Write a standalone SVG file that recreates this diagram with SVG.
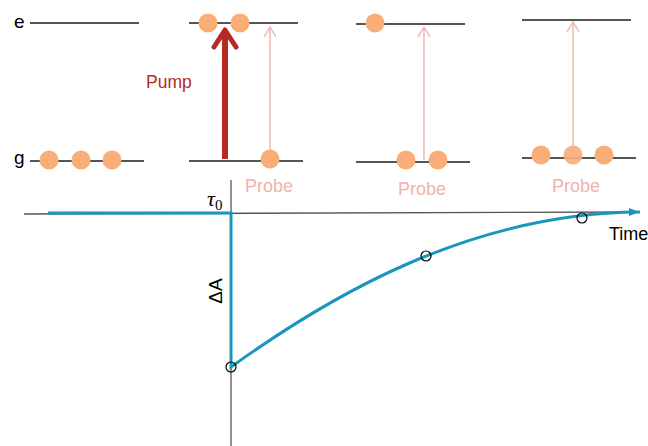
<svg xmlns="http://www.w3.org/2000/svg" width="648" height="446" viewBox="0 0 648 446">
<style>
.lvl{stroke:#555;stroke-width:2;fill:none}
.dot{fill:#f9ae78}
.probe{stroke:#eeb3ac;stroke-width:1.4;fill:none}
.ptxt{font-family:"Liberation Sans",Arial,sans-serif;font-size:18px;fill:#eeb3ac}
.lbl{font-family:"Liberation Sans",Arial,sans-serif;font-size:19px;fill:#000}
.circ{fill:none;stroke:#000;stroke-width:1.2}
</style>
<defs>
<marker id="axhead" markerWidth="10" markerHeight="8" refX="9" refY="4" orient="auto" markerUnits="userSpaceOnUse">
<path d="M0,0 L10,4 L0,8 Z" fill="#1a8fb3"/>
</marker>
</defs>
<rect width="648" height="446" fill="#fff"/>
<g id="panel1">
<text class="lbl" x="14" y="28">e</text>
<text class="lbl" x="14" y="164">g</text>
<line class="lvl" x1="30" y1="23" x2="139" y2="23"/>
<line class="lvl" x1="30" y1="161" x2="144" y2="161"/>
<circle class="dot" cx="49" cy="160" r="9.5"/>
<circle class="dot" cx="81" cy="160" r="9.5"/>
<circle class="dot" cx="112" cy="160" r="9.5"/>
</g>
<g id="panel2">
<line class="lvl" x1="189" y1="23" x2="298" y2="23"/>
<line class="lvl" x1="189" y1="161" x2="303" y2="161"/>
<circle class="dot" cx="208" cy="23" r="9.5"/>
<circle class="dot" cx="240" cy="23" r="9.5"/>
<circle class="dot" cx="270" cy="159" r="9.5"/>
<g id="pump">
<line x1="225" y1="159" x2="225" y2="32" stroke="#b52a22" stroke-width="6"/>
<polyline points="214,47 225,30 236,47" fill="none" stroke="#b52a22" stroke-width="5" stroke-linecap="round" stroke-linejoin="round"/>
<text x="146" y="88" font-family="'Liberation Sans',Arial,sans-serif" font-size="17.5" fill="#b52a22">Pump</text>
</g>
<line class="probe" x1="270" y1="150" x2="270" y2="27"/>
<polyline class="probe" points="264,37 270,27 276,37"/>
<text class="ptxt" x="245" y="192">Probe</text>
</g>
<g id="panel3">
<line class="lvl" x1="356" y1="24" x2="465" y2="24"/>
<line class="lvl" x1="356" y1="162" x2="470" y2="162"/>
<circle class="dot" cx="375" cy="23" r="9.5"/>
<circle class="dot" cx="406" cy="160" r="9.5"/>
<circle class="dot" cx="438" cy="160" r="9.5"/>
<line class="probe" x1="424" y1="160" x2="424" y2="27"/>
<polyline class="probe" points="418,37 424,27 430,37"/>
<text class="ptxt" x="398" y="195">Probe</text>
</g>
<g id="panel4">
<line class="lvl" x1="522" y1="20" x2="631" y2="20"/>
<line class="lvl" x1="522" y1="158" x2="636" y2="158"/>
<line class="probe" x1="573" y1="155" x2="573" y2="22"/>
<polyline class="probe" points="567,32 573,22 579,32"/>
<circle class="dot" cx="541" cy="155" r="9.5"/>
<circle class="dot" cx="573" cy="155" r="9.5" opacity="0.92"/>
<circle class="dot" cx="604" cy="155" r="9.5"/>
<text class="ptxt" x="552" y="192">Probe</text>
</g>
<g id="graph">
<line x1="24" y1="214" x2="638" y2="212" stroke="#555" stroke-width="1.3" marker-end="url(#axhead)"/>
<line x1="231" y1="180" x2="231" y2="446" stroke="#555" stroke-width="1.3"/>
<path d="M48,213 L231,213 L231,367 C330,296 470,213 640,212" fill="none" stroke="#1a96be" stroke-width="3"/>
<circle class="circ" cx="231" cy="367" r="5"/>
<circle class="circ" cx="426" cy="256" r="5"/>
<circle class="circ" cx="582" cy="218" r="5"/>
<text x="207" y="206" font-family="'Liberation Serif','Times New Roman',serif" font-style="italic" font-size="22" fill="#000">τ<tspan font-style="normal" font-size="15" dy="4">0</tspan></text>
<text x="609" y="240" font-family="'Liberation Sans',Arial,sans-serif" font-size="18" fill="#000">Time</text>
<text transform="translate(222,291) rotate(-90)" text-anchor="middle" font-family="'Liberation Sans',Arial,sans-serif" font-size="19" fill="#000">ΔA</text>
</g>
</svg>
